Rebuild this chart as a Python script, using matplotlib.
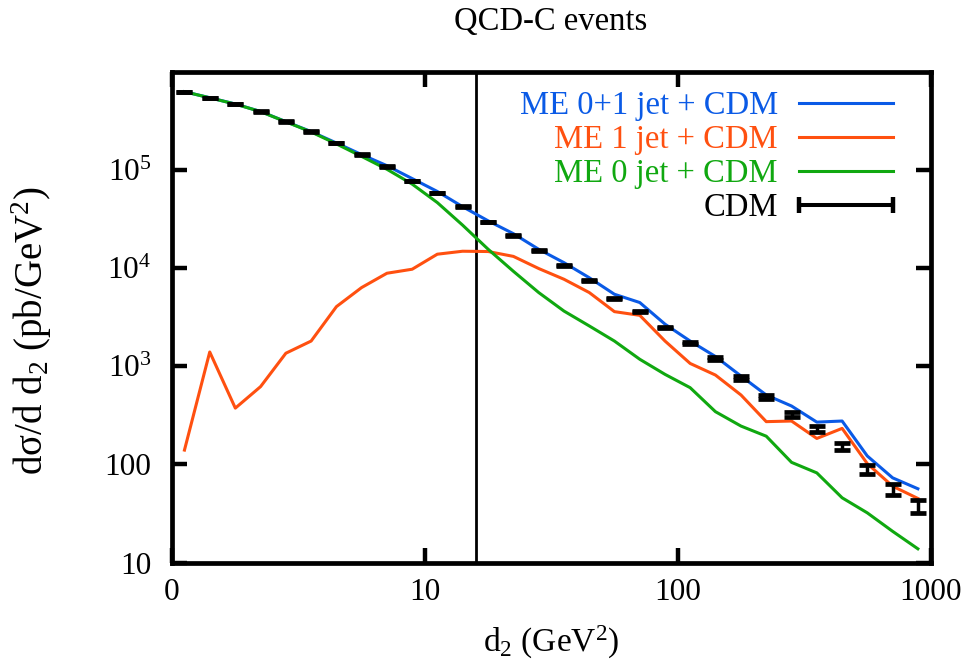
import numpy as np
import matplotlib
matplotlib.use("Agg")
import matplotlib.pyplot as plt
from matplotlib.lines import Line2D
from matplotlib.legend_handler import HandlerLine2D

plt.rcParams['font.family'] = ['Liberation Serif', 'DejaVu Serif']
plt.rcParams['mathtext.fontset'] = 'custom'
plt.rcParams['mathtext.rm'] = 'Liberation Serif'
plt.rcParams['mathtext.it'] = 'Liberation Serif:italic'
plt.rcParams['mathtext.bf'] = 'Liberation Serif:bold'

# bin centres in d2 (GeV^2)
d2 = [1.12, 1.41, 1.78, 2.24, 2.82, 3.55, 4.47, 5.62, 7.08, 8.91,
      11.2, 14.1, 17.8, 22.4, 28.2, 35.5, 44.7, 56.2, 70.8, 89.1,
      112, 141, 178, 224, 282, 355, 447, 562, 708, 891]

# ME 0+1 jet + CDM
me01 = [6.3e5, 5.47e5, 4.72e5, 3.96e5, 3.12e5, 2.47e5, 1.89e5, 1.44e5, 1.11e5, 8.2e4,
        6.06e4, 4.24e4, 3.04e4, 2.25e4, 1.56e4, 1.14e4, 8.0e3, 5.43e3, 4.47e3, 2.69e3,
        1.81e3, 1.26e3, 796, 510, 394, 270, 277, 122, 73, 56.5]
# ME 1 jet + CDM
me1 = [140, 1400, 375, 621, 1360, 1810, 4060, 6350, 8890, 9770,
       1.39e4, 1.49e4, 1.48e4, 1.32e4, 9.93e3, 7.72e3, 5.65e3, 3.61e3, 3.31e3, 1.81e3,
       1.07e3, 815, 510, 273, 277, 184, 233, 102, 60, 45]
# ME 0 jet + CDM
me0 = [6.3e5, 5.46e5, 4.71e5, 3.95e5, 3.11e5, 2.45e5, 1.85e5, 1.38e5, 1.02e5, 7.2e4,
       4.67e4, 2.75e4, 1.56e4, 9.3e3, 5.65e3, 3.66e3, 2.58e3, 1.81e3, 1.18e3, 828,
       606, 345, 246, 194, 105, 82, 45.7, 32.1, 20.8, 13.8]
# CDM with relative errors
cdm = [6.3e5, 5.47e5, 4.75e5, 3.97e5, 3.14e5, 2.48e5, 1.90e5, 1.45e5, 1.09e5, 7.78e4,
       5.87e4, 4.23e4, 2.97e4, 2.14e4, 1.53e4, 1.06e4, 7.48e3, 4.94e3, 3.61e3, 2.48e3,
       1.73e3, 1.20e3, 760, 487, 324, 231, 153, 89, 55.6, 37.5]
cdm_rel = [0.004, 0.004, 0.004, 0.004, 0.005, 0.005, 0.005, 0.006, 0.006, 0.007,
           0.007, 0.008, 0.008, 0.009, 0.010, 0.011, 0.012, 0.014, 0.016, 0.018,
           0.02, 0.033, 0.04, 0.05, 0.065, 0.07, 0.08, 0.11, 0.13, 0.15]

cut = 16.0
xticks = [1, 10, 100, 1000]
xlabels = ['0', '10', '100', '1000']
yticks = [10, 100, 1e3, 1e4, 1e5]
ylabels = ['10', '100', r'10$^3$', r'10$^4$', r'10$^5$']

blue = '#0a5ae6'
orange = '#ff5010'
green = '#10a810'

fig = plt.figure(figsize=(9.68, 6.70), dpi=100)
ax = fig.add_axes([0.1777, 0.1604, 0.9613 - 0.1777, 0.8925 - 0.1604])

d2 = np.array(d2)
cdm = np.array(cdm)
err = cdm * np.array(cdm_rel)

ax.axvline(cut, color='k', lw=2.0)
l1, = ax.plot(d2, me01, color=blue, lw=2.2, label='ME 0+1 jet + CDM')
l2, = ax.plot(d2, me1, color=orange, lw=2.2, label='ME 1 jet + CDM')
l3, = ax.plot(d2, me0, color=green, lw=2.2, label='ME 0 jet + CDM')
ax.errorbar(d2, cdm, yerr=err, fmt='none', ecolor='k', elinewidth=2.5,
            capsize=6, capthick=3.4, zorder=5)

ax.set_xscale('log')
ax.set_yscale('log')
ax.set_xlim(1, 1000)
ax.set_ylim(10, 1e6)
ax.set_xticks(xticks)
ax.set_xticklabels(xlabels)
ax.set_yticks(yticks)
ax.set_yticklabels(ylabels)
ax.minorticks_off()
ax.tick_params(which='both', direction='in', top=True, right=True,
               length=10.5, width=3.2, labelsize=22.5)
ax.tick_params(axis='x', pad=11)
ax.tick_params(axis='y', pad=15)
for s in ax.spines.values():
    s.set_linewidth(3.4)

ax.set_xlabel(r'd$_2$ (GeV$^2$)', fontsize=24, labelpad=12)
ax.set_ylabel('dσ/d d$_2$ (pb/GeV$^2$)', fontsize=28)
ax.yaxis.set_label_coords(-0.155, 0.472)
fig.text(0.569, 0.967, 'QCD-C events', fontsize=23.5, ha='center', va='center')

cdm_h = Line2D([], [], color='k', lw=2.9, marker='|', markersize=11.5, mew=3.2)
leg = ax.legend([l1, l2, l3, cdm_h],
                ['ME 0+1 jet + CDM', 'ME 1 jet + CDM', 'ME 0 jet + CDM', 'CDM'],
                handler_map={cdm_h: HandlerLine2D(numpoints=2, marker_pad=0)},
                loc='upper right', bbox_to_anchor=(0.951, 0.962),
                markerfirst=False, frameon=False, fontsize=23.5,
                handlelength=2.9, handletextpad=0.64, labelspacing=0.11,
                borderaxespad=0, borderpad=0, labelcolor='linecolor')

fig.savefig('out.png', dpi=100)
